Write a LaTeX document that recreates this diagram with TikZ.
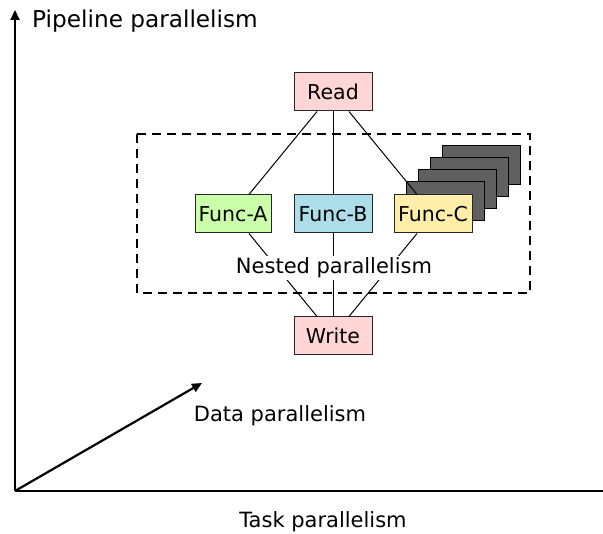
\documentclass[tikz,border=0pt]{standalone}
\usepackage{fontspec}
\setmainfont{DejaVu Sans}
\usetikzlibrary{arrows.meta}
\definecolor{ioPink}{RGB}{255,213,213}
\definecolor{funcGreen}{RGB}{204,255,170}
\definecolor{funcBlue}{RGB}{173,221,232}
\definecolor{funcYellow}{RGB}{255,238,170}
\definecolor{copyGray}{RGB}{96,96,96}
\begin{document}
\begin{tikzpicture}[x=1pt,y=-1pt,
  box/.style={draw=black!85, line width=1pt, minimum width=78pt, minimum height=38pt,
    inner sep=0pt, font=\fontsize{20.5}{24}\selectfont},
  copybox/.style={draw=black, line width=1pt, fill=copyGray, minimum width=78pt,
    minimum height=39pt, inner sep=0pt},
  link/.style={line width=1pt},
  axisline/.style={line width=2.2pt},
  tip/.style={-{Triangle[length=10pt,width=9pt]}},
  lbl/.style={font=\fontsize{21}{25}\selectfont, inner sep=0pt}]
\useasboundingbox (0,0) rectangle (603,534);

% axes
\coordinate (origin) at (15,491);
\coordinate (ytip) at (15,10);
\coordinate (xend) at (603,491);
\coordinate (dtip) at (202,383);
\draw[axisline, tip] (origin) -- (ytip);
\draw[axisline] (origin) -- (xend);
\draw[axisline, tip] (origin) -- (dtip);

\node[lbl, anchor=west, font=\fontsize{23.2}{27}\selectfont] (pipe) at (32,21) {Pipeline parallelism};
\node[lbl] (data) at (280,416) {Data parallelism};
\node[lbl] (task) at (323,522) {Task parallelism};

% nested region
\draw[line width=2pt, dash pattern=on 9pt off 6pt] (137,134) rectangle (530,293);

% replicated copies behind Func-C
\node[copybox] (c4) at (481,165.5) {};
\node[copybox] (c3) at (469,177.5) {};
\node[copybox] (c2) at (457,189.5) {};
\node[copybox] (c1) at (445,201.5) {};

% tasks
\node[box, fill=ioPink] (read) at (333,92) {Read};
\node[box, fill=funcGreen, minimum width=76pt] (fa) at (233,214) {Func-A};
\node[box, fill=funcBlue] (fb) at (333,214) {Func-B};
\node[box, fill=funcYellow] (fc) at (433,214) {Func-C};
\node[box, fill=ioPink] (write) at (333,336) {Write};

% dependencies
\draw[link] (read) -- (fa);
\draw[link] (read) -- (fb);
\draw[link] (read) -- (fc);
\draw[link] (fa) -- (write);
\draw[link] (fb) -- (write);
\draw[link] (fc) -- (write);

\node[lbl, fill=white, inner sep=1.5pt] (nested) at (334,268) {Nested parallelism};
\end{tikzpicture}
\end{document}
